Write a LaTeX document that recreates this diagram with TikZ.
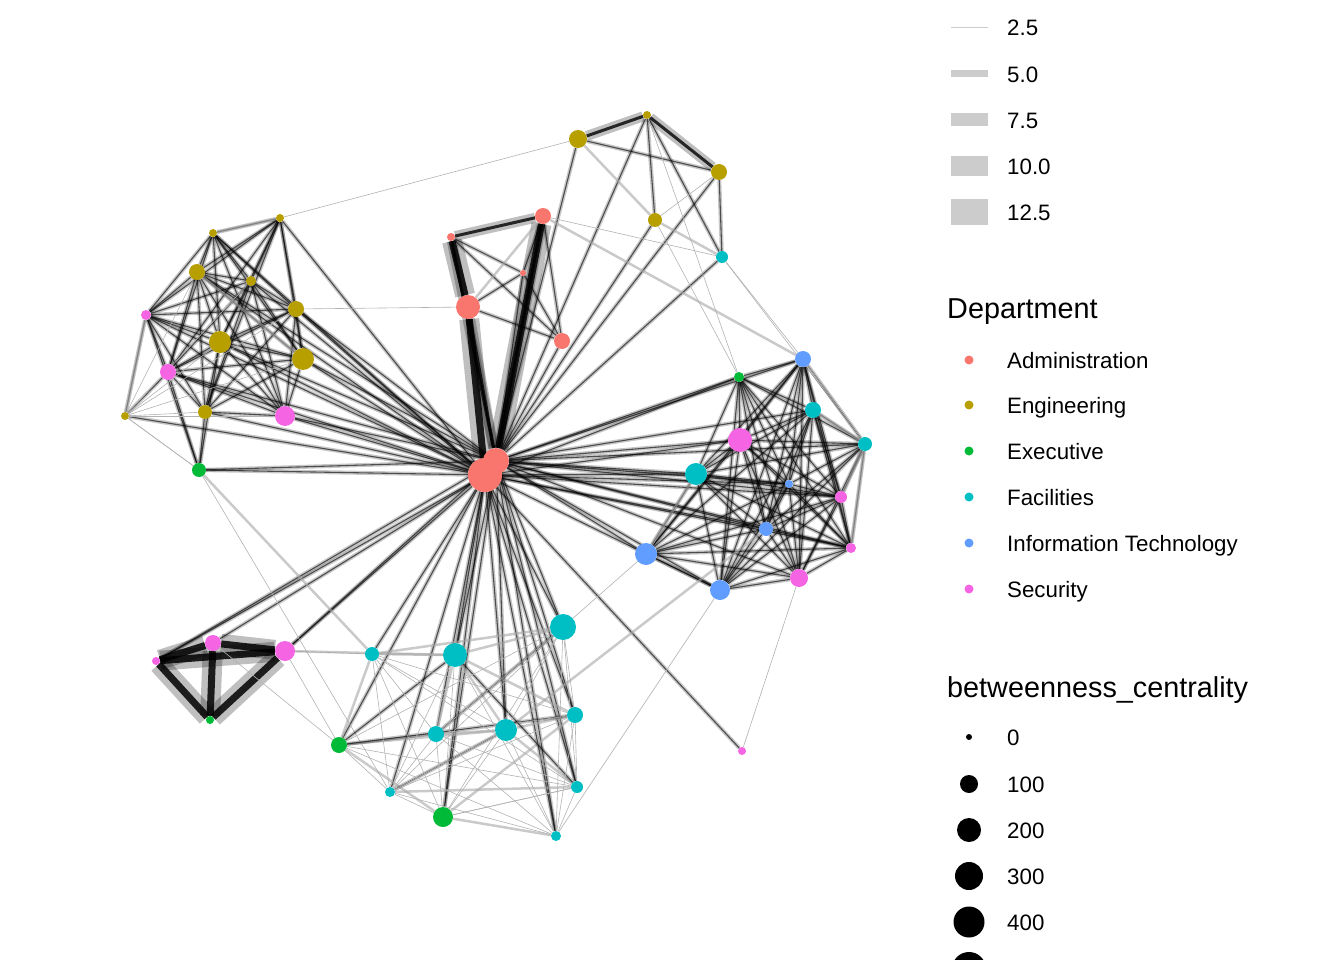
\documentclass[tikz,border=0pt]{standalone}
\usepackage{fontspec}
\setmainfont{Liberation Sans}
\pgfdeclarelayer{edges}
\pgfsetlayers{edges,main}

\definecolor{admcol}{HTML}{F8766D}
\definecolor{engcol}{HTML}{B79F00}
\definecolor{execol}{HTML}{00BA38}
\definecolor{faccol}{HTML}{00BFC4}
\definecolor{itcol}{HTML}{619CFF}
\definecolor{seccol}{HTML}{F564E3}

\tikzset{
  blob/.style={circle, inner sep=0pt, draw=none},
  adm/.style={blob, fill=admcol, minimum size=#1},
  eng/.style={blob, fill=engcol, minimum size=#1},
  exe/.style={blob, fill=execol, minimum size=#1},
  fac/.style={blob, fill=faccol, minimum size=#1},
  its/.style={blob, fill=itcol, minimum size=#1},
  sec/.style={blob, fill=seccol, minimum size=#1},
  faint/.style={every edge/.style={draw=black!30, line width=.6pt}},
  haze/.style={every edge/.style={draw=black!35, draw opacity=.6, line width=2.5pt}},
  tie/.style={every edge/.style={draw=black, draw opacity=.62, line width=1.1pt,
      preaction={draw=black, draw opacity=.22, line width=4pt}}},
  bond/.style={every edge/.style={draw=black, draw opacity=.8, line width=3pt,
      preaction={draw=black, draw opacity=.25, line width=10pt}}},
  slab/.style={every edge/.style={draw=black, draw opacity=.85, line width=7pt,
      preaction={draw=black, draw opacity=.25, line width=20pt}}},
  lab/.style={anchor=base west, inner sep=0pt, font=\fontsize{22.3}{26}\selectfont},
  ttl/.style={anchor=base west, inner sep=0pt, font=\fontsize{28.8}{34}\selectfont},
}

\begin{document}
\begin{tikzpicture}[x=1pt, y=-1pt]
\useasboundingbox (0,0) rectangle (1344,960);

% hub
\node[adm=34] (h1) at (485,475) {};
\node[adm=26] (h2) at (496,461) {};
\node[adm=24] (a1) at (468,307) {};
\node[adm=16] (a2) at (543,216) {};
\node[adm=16] (a3) at (562,341) {};
\node[adm=8]  (a4) at (451,237) {};
\node[adm=6]  (a5) at (523,273) {};

% top group
\node[eng=18] (e1) at (578,139) {};
\node[eng=8]  (e2) at (647,115) {};
\node[eng=16] (e3) at (719,172) {};
\node[eng=14] (e4) at (655,220) {};
\node[fac=12] (f1) at (722,257) {};

% left group
\node[eng=8]  (e5)  at (213,233) {};
\node[eng=8]  (e6)  at (280,218) {};
\node[eng=16] (e7)  at (197,272) {};
\node[eng=10] (e8)  at (251,281) {};
\node[eng=16] (e9)  at (296,309) {};
\node[eng=22] (e10) at (220,342) {};
\node[eng=22] (e11) at (303,359) {};
\node[eng=14] (e12) at (205,412) {};
\node[eng=8]  (e13) at (125,416) {};
\node[sec=10] (s1)  at (146,315) {};
\node[sec=16] (s2)  at (168,372) {};
\node[sec=20] (s3)  at (285,416) {};
\node[exe=14] (x1)  at (199,470) {};

% right group
\node[its=16] (i1) at (803,359) {};
\node[its=8]  (i2) at (789,484) {};
\node[its=14] (i3) at (766,529) {};
\node[its=22] (i4) at (646,554) {};
\node[its=20] (i5) at (720,590) {};
\node[exe=10] (x2) at (739,377) {};
\node[fac=16] (f2) at (813,410) {};
\node[fac=14] (f3) at (865,444) {};
\node[fac=22] (f4) at (696,474) {};
\node[sec=24] (s4) at (740,440) {};
\node[sec=12] (s5) at (841,497) {};
\node[sec=10] (s6) at (851,548) {};
\node[sec=18] (s7) at (799,578) {};

% triangle
\node[sec=8]  (s8)  at (156,661) {};
\node[sec=16] (s9)  at (213,643) {};
\node[sec=20] (s10) at (285,651) {};
\node[exe=8]  (x3)  at (210,720) {};

% bottom group
\node[fac=26] (f5)  at (563,627) {};
\node[fac=24] (f6)  at (455,655) {};
\node[fac=14] (f7)  at (372,654) {};
\node[fac=16] (f8)  at (436,734) {};
\node[fac=22] (f9)  at (506,730) {};
\node[fac=16] (f10) at (575,715) {};
\node[fac=10] (f11) at (390,792) {};
\node[fac=12] (f12) at (577,787) {};
\node[fac=10] (f13) at (556,836) {};
\node[exe=16] (x4)  at (339,745) {};
\node[exe=20] (x5)  at (443,817) {};
\node[sec=8]  (s11) at (742,751) {};

\begin{pgfonlayer}{edges}
% hub ties
\path[slab] (h1) edge (a1) (h2) edge (a2);
\path[bond] (h2) edge (a4) edge (a1) edge (a2);
\path[tie] (h1) edge (e5) edge (e6) edge (e7) edge (e8) edge (e9) edge (e10) edge (e11) edge (e12) edge (e13) edge (s1) edge (s2) edge (s3) edge (x1);
\path[tie] (h2) edge (e7) edge (e9) edge (e10) edge (e11) edge (s2) edge (s3) edge (x1);
\path[tie] (h2) edge (i1) edge (i2) edge (i3) edge (i4) edge (i5) edge (x2) edge (f2) edge (f3) edge (f4) edge (s4) edge (s5) edge (s6) edge (s7);
\path[tie] (h1) edge (i2) edge (i3) edge (f4) edge (s4) edge (s5) edge (s6) edge (i5) edge (x2);
\path[tie] (h1) edge (f5) edge (f6) edge (f7) edge (f8) edge (f9) edge (f10) edge (f11) edge (f12) edge (f13) edge (x4) edge (x5) edge (s8) edge (s9) edge (s10) edge (s11);
\path[tie] (h2) edge (f5) edge (f6) edge (f9) edge (f10) edge (f12) edge (f13) edge (x5) edge (s8) edge (s10);
\path[tie] (h2) edge (e1) edge (e2) edge (e3) edge (e4) edge (f1) edge (a3) edge (a5);

% admin
\path[slab] (a4) edge (a1);
\path[bond] (a4) edge (a2);
\path[tie] (a4) edge (a5) edge (a3) (a5) edge (a2) edge (a3) (a1) edge (a5) edge (a3) (a2) edge (a3);
\path[haze] (a1) edge (a2) (a2) edge (i1);
\path[faint] (a1) edge (e9) (a2) edge (f1);

% top group
\path[bond] (e1) edge (e2) (e2) edge (e3);
\path[haze] (e1) edge (e4) (e4) edge (f1);
\path[tie] (e1) edge (e3) (e2) edge (e4) (e3) edge (f1) (e2) edge (f1);
\path[faint] (e2) edge (x2) (e3) edge (e4) (e4) edge (x2) (f1) edge (i1) edge (f3) (e6) edge (e1);

% left group
\path[tie] (e5) edge (e6) edge (e7) edge (e8) edge (e9) edge (e10) edge (e11) edge (s1) edge (s2) edge (s3);
\path[tie] (e6) edge (e7) edge (e8) edge (e9) edge (e10) edge (e11) edge (s1) edge (s2) edge (e12);
\path[tie] (e7) edge (e8) edge (e9) edge (e10) edge (e11) edge (s1) edge (s2) edge (s3) edge (e12);
\path[tie] (e8) edge (e9) edge (e10) edge (e11) edge (s1) edge (s2) edge (e12) edge (s3);
\path[tie] (e9) edge (e10) edge (e11) edge (s1) edge (s2) edge (s3) edge (e12);
\path[tie] (e10) edge (e11) edge (s1) edge (s2) edge (s3) edge (e12) edge (x1);
\path[tie] (e11) edge (s1) edge (s2) edge (s3) edge (e12);
\path[tie] (s1) edge (s2) edge (s3) edge (e12) edge (e13) edge (x1);
\path[tie] (s2) edge (s3) edge (e12) edge (e13) edge (x1);
\path[tie] (e12) edge (s3) edge (x1);
\path[faint] (e13) edge (e7) edge (e8) edge (e9) edge (e10) edge (e11) edge (s3) edge (e12) edge (x1);
\path[haze] (e6) edge (e5) (e7) edge (e11) (s1) edge (e13);

% right group
\path[tie] (i1) edge (x2) edge (f2) edge (f3) edge (f4) edge (s4) edge (i2) edge (i3) edge (s5) edge (s6) edge (s7) edge (i5) edge (i4);
\path[tie] (x2) edge (f2) edge (s4) edge (i2) edge (i3) edge (s5) edge (s6) edge (s7) edge (f4) edge (i5) edge (f3);
\path[tie] (f2) edge (f3) edge (s4) edge (i2) edge (i3) edge (s5) edge (s6) edge (s7) edge (i5) edge (i4) edge (f4);
\path[tie] (f3) edge (s4) edge (i2) edge (i3) edge (s5) edge (s6) edge (s7) edge (f4) edge (i5);
\path[tie] (f4) edge (s4) edge (i2) edge (i3) edge (s5) edge (s6) edge (s7) edge (i4) edge (i5);
\path[tie] (s4) edge (i2) edge (i3) edge (s5) edge (s6) edge (s7) edge (i4) edge (i5);
\path[tie] (i2) edge (i3) edge (s5) edge (s6) edge (s7) edge (i4) edge (i5);
\path[tie] (i3) edge (s5) edge (s6) edge (s7) edge (i4) edge (i5);
\path[tie] (s5) edge (s6) edge (s7) edge (i4) edge (i5);
\path[tie] (s6) edge (s7) edge (i4) edge (i5);
\path[tie] (s7) edge (i4) edge (i5) (i4) edge (i5);
\path[haze] (f3) edge (s5) edge (s6) (i4) edge (f4) (f2) edge (f3);
\path[faint] (i1) edge (f3) (i5) edge (f13) (s7) edge (s11) (i4) edge (f5);

% triangle
\path[slab] (s8) edge (s9) edge (s10) edge (x3) (s9) edge (s10) edge (x3) (s10) edge (x3);
\path[faint] (s10) edge (x4) edge (f7) (s9) edge (x4) (x1) edge (f11) (e13) edge (x1);
\path[haze] (x1) edge (f7) (s10) edge (f6);

% bottom group
\path[haze] (f5) edge (f6) edge (f7) (f6) edge (f7) edge (f9) edge (f10) edge (f8);
\path[haze] (f7) edge (x4) (f8) edge (f9) edge (x4) (f9) edge (f10) edge (x4) edge (f12) edge (i3);
\path[haze] (f11) edge (f12) (x4) edge (x5) (x5) edge (f13) edge (f10);
\path[tie] (x4) edge (f6) edge (f10) (f6) edge (f12) (f8) edge (f5) (f11) edge (f9);
\path[faint] (f5) edge (f8) edge (f9) edge (f10) edge (f11) edge (f12) edge (f13) edge (x4) edge (x5);
\path[faint] (f6) edge (f11) edge (f13) edge (x5) (f7) edge (f8) edge (f9) edge (f10) edge (f11) edge (f12) edge (x5);
\path[faint] (f8) edge (f10) edge (f11) edge (f12) edge (f13) edge (x5) (f9) edge (f11) edge (f13) edge (x5);
\path[faint] (f10) edge (f11) edge (f12) edge (f13) (f11) edge (x4) edge (x5) edge (f13) (f12) edge (f13) edge (x5) edge (x4);
\path[faint] (x4) edge (f13) (x5) edge (f12);
\end{pgfonlayer}

% -------- legend -----------
\draw[black!20, line width=1pt] (951,28) -- (988,28);
\fill[black!20] (951,70.5) rectangle (988,77.5);
\fill[black!20] (951,113.5) rectangle (988,126.5);
\fill[black!20] (951,156) rectangle (988,176);
\fill[black!20] (951,199.5) rectangle (988,225.5);
\node[lab] (w1) at (1007,36) {2.5};
\node[lab] (w2) at (1007,83) {5.0};
\node[lab] (w3) at (1007,129) {7.5};
\node[lab] (w4) at (1007,175) {10.0};
\node[lab] (w5) at (1007,221) {12.5};

\node[ttl] (dept) at (947,318) {Department};
\node[adm=9] (k1) at (969,360) {};
\node[eng=9] (k2) at (969,405) {};
\node[exe=9] (k3) at (969,451) {};
\node[fac=9] (k4) at (969,497) {};
\node[its=9] (k5) at (969,543) {};
\node[sec=9] (k6) at (969,589) {};
\node[lab] (t1) at (1007,368.5) {Administration};
\node[lab] (t2) at (1007,413.5) {Engineering};
\node[lab] (t3) at (1007,459.5) {Executive};
\node[lab] (t4) at (1007,505.5) {Facilities};
\node[lab] (t5) at (1007,551.5) {Information Technology};
\node[lab] (t6) at (1007,597.5) {Security};

\node[ttl] (btw) at (947,697) {betweenness\_centrality};
\node[blob, fill=black, minimum size=6]  (b0) at (969,737) {};
\node[blob, fill=black, minimum size=18] (b1) at (969,784) {};
\node[blob, fill=black, minimum size=24] (b2) at (969,830) {};
\node[blob, fill=black, minimum size=28] (b3) at (969,876) {};
\node[blob, fill=black, minimum size=31] (b4) at (969,922) {};
\node[blob, fill=black, minimum size=34] (b5) at (969,969) {};
\node[lab] (u0) at (1007,745.5) {0};
\node[lab] (u1) at (1007,792.5) {100};
\node[lab] (u2) at (1007,838.5) {200};
\node[lab] (u3) at (1007,884.5) {300};
\node[lab] (u4) at (1007,930.5) {400};
\end{tikzpicture}
\end{document}
